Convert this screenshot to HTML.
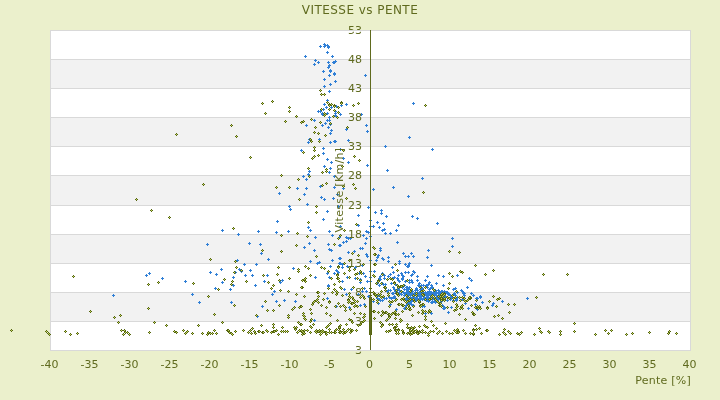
<!DOCTYPE html>
<html><head><meta charset="utf-8"><title>VITESSE vs PENTE</title>
<style>
html,body{margin:0;padding:0;background:#ebf0cc;}
svg{display:block;}
.t{font-family:"DejaVu Sans", "Liberation Sans", sans-serif;font-size:11px;fill:#5f6a1e;}
.ti{font-family:"DejaVu Sans", "Liberation Sans", sans-serif;font-size:12px;fill:#5f6a1e;}
</style></head><body>
<svg width="720" height="400" viewBox="0 0 720 400">
<defs>
<g id="od" shape-rendering="crispEdges"><rect x="-1" y="0" width="3" height="1" fill="#56650f"/><rect x="0" y="-1" width="1" height="3" fill="#56650f"/><rect x="0" y="0" width="1" height="1" fill="#bcd060"/></g>
<g id="bd" shape-rendering="crispEdges"><rect x="-1" y="0" width="3" height="1" fill="#2f7fd6"/><rect x="0" y="-1" width="1" height="3" fill="#2f7fd6"/></g>
</defs>
<rect x="0" y="0" width="720" height="400" fill="#ebf0cc"/>
<rect x="50" y="30" width="640" height="320" fill="#ffffff"/>
<rect x="50" y="59" width="640" height="29" fill="#f2f2f2"/>
<rect x="50" y="117" width="640" height="29" fill="#f2f2f2"/>
<rect x="50" y="175" width="640" height="30" fill="#f2f2f2"/>
<rect x="50" y="234" width="640" height="29" fill="#f2f2f2"/>
<rect x="50" y="292" width="640" height="29" fill="#f2f2f2"/>
<line x1="50" y1="59.5" x2="690" y2="59.5" stroke="#d9d9d9" stroke-width="1"/>
<line x1="50" y1="88.5" x2="690" y2="88.5" stroke="#d9d9d9" stroke-width="1"/>
<line x1="50" y1="117.5" x2="690" y2="117.5" stroke="#d9d9d9" stroke-width="1"/>
<line x1="50" y1="146.5" x2="690" y2="146.5" stroke="#d9d9d9" stroke-width="1"/>
<line x1="50" y1="175.5" x2="690" y2="175.5" stroke="#d9d9d9" stroke-width="1"/>
<line x1="50" y1="205.5" x2="690" y2="205.5" stroke="#d9d9d9" stroke-width="1"/>
<line x1="50" y1="234.5" x2="690" y2="234.5" stroke="#d9d9d9" stroke-width="1"/>
<line x1="50" y1="263.5" x2="690" y2="263.5" stroke="#d9d9d9" stroke-width="1"/>
<line x1="50" y1="292.5" x2="690" y2="292.5" stroke="#d9d9d9" stroke-width="1"/>
<line x1="50" y1="321.5" x2="690" y2="321.5" stroke="#d9d9d9" stroke-width="1"/>
<rect x="50.5" y="30.5" width="640" height="320" fill="none" stroke="#d9d9d9" stroke-width="1"/>
<text x="49.5" y="367.7" text-anchor="middle" class="t">-40</text>
<text x="89.5" y="367.7" text-anchor="middle" class="t">-35</text>
<text x="129.5" y="367.7" text-anchor="middle" class="t">-30</text>
<text x="169.5" y="367.7" text-anchor="middle" class="t">-25</text>
<text x="209.5" y="367.7" text-anchor="middle" class="t">-20</text>
<text x="249.5" y="367.7" text-anchor="middle" class="t">-15</text>
<text x="289.5" y="367.7" text-anchor="middle" class="t">-10</text>
<text x="329.5" y="367.7" text-anchor="middle" class="t">-5</text>
<text x="369.5" y="367.7" text-anchor="middle" class="t">0</text>
<text x="409.5" y="367.7" text-anchor="middle" class="t">5</text>
<text x="449.5" y="367.7" text-anchor="middle" class="t">10</text>
<text x="489.5" y="367.7" text-anchor="middle" class="t">15</text>
<text x="529.5" y="367.7" text-anchor="middle" class="t">20</text>
<text x="569.5" y="367.7" text-anchor="middle" class="t">25</text>
<text x="609.5" y="367.7" text-anchor="middle" class="t">30</text>
<text x="649.5" y="367.7" text-anchor="middle" class="t">35</text>
<text x="689.5" y="367.7" text-anchor="middle" class="t">40</text>
<text x="691" y="383.5" text-anchor="end" class="t" style="letter-spacing:0.25px">Pente [%]</text>
<text x="360" y="14" text-anchor="middle" class="ti" style="letter-spacing:0.45px">VITESSE vs PENTE</text>
<g>
<use href="#bd" x="222.0" y="230.0"/>
<use href="#bd" x="238.0" y="234.0"/>
<use href="#bd" x="413.0" y="103.0"/>
<use href="#bd" x="409.0" y="137.0"/>
<use href="#bd" x="385.0" y="146.0"/>
<use href="#bd" x="432.0" y="149.0"/>
<use href="#bd" x="387.0" y="170.0"/>
<use href="#bd" x="422.0" y="178.0"/>
<use href="#bd" x="373.0" y="189.0"/>
<use href="#bd" x="393.0" y="187.0"/>
<use href="#bd" x="408.0" y="196.0"/>
<use href="#bd" x="375.0" y="212.0"/>
<use href="#bd" x="381.0" y="210.0"/>
<use href="#bd" x="381.0" y="213.0"/>
<use href="#bd" x="386.0" y="216.0"/>
<use href="#bd" x="412.0" y="216.0"/>
<use href="#bd" x="417.0" y="218.0"/>
<use href="#bd" x="437.0" y="223.0"/>
<use href="#bd" x="377.0" y="222.0"/>
<use href="#bd" x="383.0" y="223.0"/>
<use href="#bd" x="373.0" y="226.0"/>
<use href="#bd" x="379.0" y="227.0"/>
<use href="#bd" x="398.0" y="225.0"/>
<use href="#bd" x="370.0" y="220.0"/>
<use href="#bd" x="471.0" y="280.0"/>
<use href="#bd" x="471.0" y="293.0"/>
<use href="#bd" x="473.0" y="295.0"/>
<use href="#bd" x="480.0" y="296.0"/>
<use href="#bd" x="476.0" y="298.0"/>
<use href="#bd" x="482.0" y="302.0"/>
<use href="#bd" x="475.0" y="304.0"/>
<use href="#bd" x="477.0" y="309.0"/>
<use href="#bd" x="502.0" y="301.0"/>
<use href="#bd" x="493.0" y="303.0"/>
<use href="#bd" x="492.0" y="305.0"/>
<use href="#bd" x="527.0" y="298.0"/>
<use href="#bd" x="113.0" y="295.0"/>
<use href="#bd" x="146.0" y="275.0"/>
<use href="#bd" x="149.0" y="273.0"/>
<use href="#bd" x="162.0" y="278.0"/>
<use href="#bd" x="207.0" y="244.0"/>
<use href="#bd" x="249.0" y="243.0"/>
<use href="#bd" x="260.0" y="244.0"/>
<use href="#bd" x="237.0" y="260.0"/>
<use href="#bd" x="244.0" y="264.0"/>
<use href="#bd" x="256.0" y="264.0"/>
<use href="#bd" x="221.0" y="269.0"/>
<use href="#bd" x="210.0" y="272.0"/>
<use href="#bd" x="216.0" y="274.0"/>
<use href="#bd" x="239.0" y="269.0"/>
<use href="#bd" x="241.0" y="271.0"/>
<use href="#bd" x="250.0" y="270.0"/>
<use href="#bd" x="235.0" y="272.0"/>
<use href="#bd" x="245.0" y="275.0"/>
<use href="#bd" x="252.0" y="275.0"/>
<use href="#bd" x="233.0" y="277.0"/>
<use href="#bd" x="185.0" y="281.0"/>
<use href="#bd" x="222.0" y="282.0"/>
<use href="#bd" x="233.0" y="285.0"/>
<use href="#bd" x="215.0" y="288.0"/>
<use href="#bd" x="230.0" y="289.0"/>
<use href="#bd" x="255.0" y="285.0"/>
<use href="#bd" x="192.0" y="294.0"/>
<use href="#bd" x="199.0" y="302.0"/>
<use href="#bd" x="272.0" y="294.0"/>
<use href="#bd" x="274.0" y="291.0"/>
<use href="#bd" x="231.0" y="302.0"/>
<use href="#bd" x="262.0" y="306.0"/>
<use href="#bd" x="276.0" y="301.0"/>
<use href="#bd" x="284.0" y="300.0"/>
<use href="#bd" x="295.0" y="301.0"/>
<use href="#bd" x="257.0" y="316.0"/>
<use href="#bd" x="328.0" y="286.0"/>
<use href="#bd" x="327.0" y="298.0"/>
<use href="#bd" x="336.0" y="306.0"/>
<use href="#bd" x="344.0" y="289.0"/>
<use href="#bd" x="351.0" y="289.0"/>
<use href="#bd" x="346.0" y="294.0"/>
<use href="#bd" x="364.0" y="288.0"/>
<use href="#bd" x="362.0" y="291.0"/>
<use href="#bd" x="362.0" y="291.0"/>
<use href="#bd" x="366.0" y="291.0"/>
<use href="#bd" x="358.0" y="294.0"/>
<use href="#bd" x="368.0" y="296.0"/>
<use href="#bd" x="373.0" y="301.0"/>
<use href="#bd" x="349.0" y="307.0"/>
<use href="#bd" x="360.0" y="305.0"/>
<use href="#bd" x="364.0" y="304.0"/>
<use href="#bd" x="314.0" y="320.0"/>
<use href="#bd" x="261.0" y="253.0"/>
<use href="#bd" x="268.0" y="259.0"/>
<use href="#bd" x="304.0" y="247.0"/>
<use href="#bd" x="293.0" y="268.0"/>
<use href="#bd" x="267.0" y="275.0"/>
<use href="#bd" x="264.0" y="281.0"/>
<use href="#bd" x="280.0" y="282.0"/>
<use href="#bd" x="282.0" y="280.0"/>
<use href="#bd" x="309.0" y="243.0"/>
<use href="#bd" x="314.0" y="250.0"/>
<use href="#bd" x="328.0" y="244.0"/>
<use href="#bd" x="329.0" y="249.0"/>
<use href="#bd" x="331.0" y="250.0"/>
<use href="#bd" x="339.0" y="245.0"/>
<use href="#bd" x="310.0" y="261.0"/>
<use href="#bd" x="317.0" y="263.0"/>
<use href="#bd" x="319.0" y="262.0"/>
<use href="#bd" x="332.0" y="260.0"/>
<use href="#bd" x="339.0" y="258.0"/>
<use href="#bd" x="339.0" y="263.0"/>
<use href="#bd" x="330.0" y="266.0"/>
<use href="#bd" x="336.0" y="270.0"/>
<use href="#bd" x="337.0" y="271.0"/>
<use href="#bd" x="327.0" y="273.0"/>
<use href="#bd" x="334.0" y="273.0"/>
<use href="#bd" x="315.0" y="277.0"/>
<use href="#bd" x="329.0" y="277.0"/>
<use href="#bd" x="328.0" y="285.0"/>
<use href="#bd" x="339.0" y="237.0"/>
<use href="#bd" x="346.0" y="237.0"/>
<use href="#bd" x="348.0" y="238.0"/>
<use href="#bd" x="350.0" y="238.0"/>
<use href="#bd" x="366.0" y="238.0"/>
<use href="#bd" x="343.0" y="242.0"/>
<use href="#bd" x="346.0" y="241.0"/>
<use href="#bd" x="340.0" y="245.0"/>
<use href="#bd" x="365.0" y="243.0"/>
<use href="#bd" x="360.0" y="248.0"/>
<use href="#bd" x="362.0" y="248.0"/>
<use href="#bd" x="348.0" y="252.0"/>
<use href="#bd" x="354.0" y="251.0"/>
<use href="#bd" x="366.0" y="254.0"/>
<use href="#bd" x="367.0" y="256.0"/>
<use href="#bd" x="340.0" y="258.0"/>
<use href="#bd" x="370.0" y="260.0"/>
<use href="#bd" x="340.0" y="263.0"/>
<use href="#bd" x="342.0" y="264.0"/>
<use href="#bd" x="344.0" y="263.0"/>
<use href="#bd" x="347.0" y="266.0"/>
<use href="#bd" x="342.0" y="267.0"/>
<use href="#bd" x="355.0" y="267.0"/>
<use href="#bd" x="362.0" y="265.0"/>
<use href="#bd" x="336.0" y="270.0"/>
<use href="#bd" x="338.0" y="272.0"/>
<use href="#bd" x="359.0" y="273.0"/>
<use href="#bd" x="363.0" y="273.0"/>
<use href="#bd" x="365.0" y="276.0"/>
<use href="#bd" x="370.0" y="271.0"/>
<use href="#bd" x="374.0" y="271.0"/>
<use href="#bd" x="373.0" y="275.0"/>
<use href="#bd" x="370.0" y="277.0"/>
<use href="#bd" x="347.0" y="277.0"/>
<use href="#bd" x="355.0" y="278.0"/>
<use href="#bd" x="360.0" y="279.0"/>
<use href="#bd" x="360.0" y="282.0"/>
<use href="#bd" x="342.0" y="281.0"/>
<use href="#bd" x="367.0" y="281.0"/>
<use href="#bd" x="370.0" y="281.0"/>
<use href="#bd" x="258.0" y="231.0"/>
<use href="#bd" x="279.0" y="193.0"/>
<use href="#bd" x="289.0" y="206.0"/>
<use href="#bd" x="290.0" y="209.0"/>
<use href="#bd" x="277.0" y="221.0"/>
<use href="#bd" x="276.0" y="232.0"/>
<use href="#bd" x="288.0" y="231.0"/>
<use href="#bd" x="304.0" y="194.0"/>
<use href="#bd" x="321.0" y="197.0"/>
<use href="#bd" x="324.0" y="199.0"/>
<use href="#bd" x="333.0" y="198.0"/>
<use href="#bd" x="337.0" y="194.0"/>
<use href="#bd" x="307.0" y="204.0"/>
<use href="#bd" x="327.0" y="211.0"/>
<use href="#bd" x="338.0" y="206.0"/>
<use href="#bd" x="323.0" y="219.0"/>
<use href="#bd" x="308.0" y="227.0"/>
<use href="#bd" x="310.0" y="230.0"/>
<use href="#bd" x="329.0" y="231.0"/>
<use href="#bd" x="340.0" y="226.0"/>
<use href="#bd" x="332.0" y="235.0"/>
<use href="#bd" x="315.0" y="237.0"/>
<use href="#bd" x="368.0" y="207.0"/>
<use href="#bd" x="358.0" y="215.0"/>
<use href="#bd" x="358.0" y="225.0"/>
<use href="#bd" x="370.0" y="226.0"/>
<use href="#bd" x="366.0" y="231.0"/>
<use href="#bd" x="368.0" y="232.0"/>
<use href="#bd" x="363.0" y="235.0"/>
<use href="#bd" x="370.0" y="236.0"/>
<use href="#bd" x="308.0" y="142.0"/>
<use href="#bd" x="330.0" y="142.0"/>
<use href="#bd" x="334.0" y="141.0"/>
<use href="#bd" x="301.0" y="150.0"/>
<use href="#bd" x="323.0" y="148.0"/>
<use href="#bd" x="323.0" y="153.0"/>
<use href="#bd" x="327.0" y="159.0"/>
<use href="#bd" x="331.0" y="162.0"/>
<use href="#bd" x="324.0" y="166.0"/>
<use href="#bd" x="330.0" y="168.0"/>
<use href="#bd" x="329.0" y="172.0"/>
<use href="#bd" x="309.0" y="171.0"/>
<use href="#bd" x="308.0" y="174.0"/>
<use href="#bd" x="303.0" y="176.0"/>
<use href="#bd" x="306.0" y="179.0"/>
<use href="#bd" x="334.0" y="176.0"/>
<use href="#bd" x="297.0" y="188.0"/>
<use href="#bd" x="306.0" y="188.0"/>
<use href="#bd" x="320.0" y="186.0"/>
<use href="#bd" x="334.0" y="187.0"/>
<use href="#bd" x="348.0" y="140.0"/>
<use href="#bd" x="340.0" y="149.0"/>
<use href="#bd" x="343.0" y="158.0"/>
<use href="#bd" x="348.0" y="162.0"/>
<use href="#bd" x="367.0" y="165.0"/>
<use href="#bd" x="343.0" y="188.0"/>
<use href="#bd" x="329.0" y="91.0"/>
<use href="#bd" x="327.0" y="100.0"/>
<use href="#bd" x="324.0" y="104.0"/>
<use href="#bd" x="326.0" y="107.0"/>
<use href="#bd" x="331.0" y="107.0"/>
<use href="#bd" x="336.0" y="106.0"/>
<use href="#bd" x="341.0" y="105.0"/>
<use href="#bd" x="323.0" y="109.0"/>
<use href="#bd" x="318.0" y="111.0"/>
<use href="#bd" x="320.0" y="111.0"/>
<use href="#bd" x="335.0" y="111.0"/>
<use href="#bd" x="322.0" y="113.0"/>
<use href="#bd" x="322.0" y="114.0"/>
<use href="#bd" x="327.0" y="113.0"/>
<use href="#bd" x="335.0" y="113.0"/>
<use href="#bd" x="335.0" y="115.0"/>
<use href="#bd" x="340.0" y="114.0"/>
<use href="#bd" x="329.0" y="117.0"/>
<use href="#bd" x="336.0" y="116.0"/>
<use href="#bd" x="314.0" y="120.0"/>
<use href="#bd" x="327.0" y="120.0"/>
<use href="#bd" x="329.0" y="120.0"/>
<use href="#bd" x="325.0" y="123.0"/>
<use href="#bd" x="330.0" y="124.0"/>
<use href="#bd" x="322.0" y="125.0"/>
<use href="#bd" x="306.0" y="125.0"/>
<use href="#bd" x="328.0" y="127.0"/>
<use href="#bd" x="331.0" y="130.0"/>
<use href="#bd" x="330.0" y="133.0"/>
<use href="#bd" x="309.0" y="139.0"/>
<use href="#bd" x="319.0" y="139.0"/>
<use href="#bd" x="335.0" y="141.0"/>
<use href="#bd" x="320.0" y="46.0"/>
<use href="#bd" x="324.0" y="44.0"/>
<use href="#bd" x="324.0" y="46.0"/>
<use href="#bd" x="325.0" y="45.0"/>
<use href="#bd" x="327.0" y="45.0"/>
<use href="#bd" x="328.0" y="46.0"/>
<use href="#bd" x="328.0" y="47.0"/>
<use href="#bd" x="327.0" y="52.0"/>
<use href="#bd" x="305.0" y="56.0"/>
<use href="#bd" x="332.0" y="56.0"/>
<use href="#bd" x="315.0" y="60.0"/>
<use href="#bd" x="318.0" y="62.0"/>
<use href="#bd" x="314.0" y="64.0"/>
<use href="#bd" x="328.0" y="62.0"/>
<use href="#bd" x="329.0" y="65.0"/>
<use href="#bd" x="333.0" y="62.0"/>
<use href="#bd" x="334.0" y="62.0"/>
<use href="#bd" x="335.0" y="61.0"/>
<use href="#bd" x="328.0" y="67.0"/>
<use href="#bd" x="323.0" y="71.0"/>
<use href="#bd" x="330.0" y="70.0"/>
<use href="#bd" x="330.0" y="71.0"/>
<use href="#bd" x="334.0" y="73.0"/>
<use href="#bd" x="334.0" y="74.0"/>
<use href="#bd" x="329.0" y="75.0"/>
<use href="#bd" x="324.0" y="79.0"/>
<use href="#bd" x="335.0" y="81.0"/>
<use href="#bd" x="330.0" y="84.0"/>
<use href="#bd" x="324.0" y="86.0"/>
<use href="#bd" x="365.0" y="75.0"/>
<use href="#bd" x="346.0" y="104.0"/>
<use href="#bd" x="361.0" y="114.0"/>
<use href="#bd" x="366.0" y="125.0"/>
<use href="#bd" x="367.0" y="131.0"/>
<use href="#bd" x="346.0" y="129.0"/>
<use href="#bd" x="382.0" y="230.0"/>
<use href="#bd" x="384.0" y="229.0"/>
<use href="#bd" x="396.0" y="230.0"/>
<use href="#bd" x="385.0" y="233.0"/>
<use href="#bd" x="390.0" y="233.0"/>
<use href="#bd" x="397.0" y="242.0"/>
<use href="#bd" x="380.0" y="248.0"/>
<use href="#bd" x="380.0" y="250.0"/>
<use href="#bd" x="378.0" y="255.0"/>
<use href="#bd" x="377.0" y="257.0"/>
<use href="#bd" x="376.0" y="260.0"/>
<use href="#bd" x="382.0" y="258.0"/>
<use href="#bd" x="383.0" y="259.0"/>
<use href="#bd" x="388.0" y="257.0"/>
<use href="#bd" x="388.0" y="261.0"/>
<use href="#bd" x="403.0" y="253.0"/>
<use href="#bd" x="405.0" y="256.0"/>
<use href="#bd" x="408.0" y="256.0"/>
<use href="#bd" x="411.0" y="253.0"/>
<use href="#bd" x="413.0" y="256.0"/>
<use href="#bd" x="399.0" y="261.0"/>
<use href="#bd" x="399.0" y="263.0"/>
<use href="#bd" x="405.0" y="264.0"/>
<use href="#bd" x="409.0" y="263.0"/>
<use href="#bd" x="408.0" y="265.0"/>
<use href="#bd" x="392.0" y="267.0"/>
<use href="#bd" x="452.0" y="238.0"/>
<use href="#bd" x="452.0" y="246.0"/>
<use href="#bd" x="428.0" y="250.0"/>
<use href="#bd" x="427.0" y="257.0"/>
<use href="#bd" x="431.0" y="265.0"/>
<use href="#bd" x="393.0" y="272.0"/>
<use href="#bd" x="390.0" y="274.0"/>
<use href="#bd" x="382.0" y="273.0"/>
<use href="#bd" x="383.0" y="274.0"/>
<use href="#bd" x="384.0" y="275.0"/>
<use href="#bd" x="388.0" y="276.0"/>
<use href="#bd" x="380.0" y="276.0"/>
<use href="#bd" x="379.0" y="278.0"/>
<use href="#bd" x="380.0" y="279.0"/>
<use href="#bd" x="384.0" y="278.0"/>
<use href="#bd" x="392.0" y="278.0"/>
<use href="#bd" x="394.0" y="277.0"/>
<use href="#bd" x="398.0" y="275.0"/>
<use href="#bd" x="397.0" y="278.0"/>
<use href="#bd" x="398.0" y="280.0"/>
<use href="#bd" x="399.0" y="281.0"/>
<use href="#bd" x="401.0" y="273.0"/>
<use href="#bd" x="402.0" y="275.0"/>
<use href="#bd" x="403.0" y="276.0"/>
<use href="#bd" x="402.0" y="278.0"/>
<use href="#bd" x="402.0" y="279.0"/>
<use href="#bd" x="405.0" y="272.0"/>
<use href="#bd" x="408.0" y="272.0"/>
<use href="#bd" x="407.0" y="266.0"/>
<use href="#bd" x="408.0" y="266.0"/>
<use href="#bd" x="377.0" y="283.0"/>
<use href="#bd" x="379.0" y="285.0"/>
<use href="#bd" x="382.0" y="283.0"/>
<use href="#bd" x="383.0" y="284.0"/>
<use href="#bd" x="385.0" y="284.0"/>
<use href="#bd" x="384.0" y="287.0"/>
<use href="#bd" x="385.0" y="288.0"/>
<use href="#bd" x="391.0" y="283.0"/>
<use href="#bd" x="395.0" y="284.0"/>
<use href="#bd" x="405.0" y="281.0"/>
<use href="#bd" x="409.0" y="282.0"/>
<use href="#bd" x="409.0" y="280.0"/>
<use href="#bd" x="393.0" y="287.0"/>
<use href="#bd" x="394.0" y="289.0"/>
<use href="#bd" x="395.0" y="291.0"/>
<use href="#bd" x="393.0" y="293.0"/>
<use href="#bd" x="397.0" y="290.0"/>
<use href="#bd" x="398.0" y="288.0"/>
<use href="#bd" x="399.0" y="290.0"/>
<use href="#bd" x="399.0" y="293.0"/>
<use href="#bd" x="402.0" y="287.0"/>
<use href="#bd" x="404.0" y="285.0"/>
<use href="#bd" x="404.0" y="289.0"/>
<use href="#bd" x="406.0" y="287.0"/>
<use href="#bd" x="407.0" y="287.0"/>
<use href="#bd" x="408.0" y="289.0"/>
<use href="#bd" x="407.0" y="291.0"/>
<use href="#bd" x="405.0" y="293.0"/>
<use href="#bd" x="403.0" y="292.0"/>
<use href="#bd" x="388.0" y="290.0"/>
<use href="#bd" x="390.0" y="290.0"/>
<use href="#bd" x="387.0" y="291.0"/>
<use href="#bd" x="413.0" y="271.0"/>
<use href="#bd" x="414.0" y="272.0"/>
<use href="#bd" x="412.0" y="274.0"/>
<use href="#bd" x="411.0" y="275.0"/>
<use href="#bd" x="417.0" y="276.0"/>
<use href="#bd" x="427.0" y="276.0"/>
<use href="#bd" x="438.0" y="275.0"/>
<use href="#bd" x="443.0" y="276.0"/>
<use href="#bd" x="417.0" y="280.0"/>
<use href="#bd" x="425.0" y="280.0"/>
<use href="#bd" x="411.0" y="280.0"/>
<use href="#bd" x="412.0" y="282.0"/>
<use href="#bd" x="409.0" y="282.0"/>
<use href="#bd" x="436.0" y="283.0"/>
<use href="#bd" x="443.0" y="285.0"/>
<use href="#bd" x="429.0" y="282.0"/>
<use href="#bd" x="428.0" y="284.0"/>
<use href="#bd" x="419.0" y="283.0"/>
<use href="#bd" x="418.0" y="285.0"/>
<use href="#bd" x="421.0" y="285.0"/>
<use href="#bd" x="419.0" y="286.0"/>
<use href="#bd" x="423.0" y="285.0"/>
<use href="#bd" x="426.0" y="285.0"/>
<use href="#bd" x="427.0" y="287.0"/>
<use href="#bd" x="431.0" y="285.0"/>
<use href="#bd" x="432.0" y="287.0"/>
<use href="#bd" x="407.0" y="287.0"/>
<use href="#bd" x="409.0" y="287.0"/>
<use href="#bd" x="406.0" y="289.0"/>
<use href="#bd" x="408.0" y="288.0"/>
<use href="#bd" x="416.0" y="288.0"/>
<use href="#bd" x="415.0" y="290.0"/>
<use href="#bd" x="417.0" y="290.0"/>
<use href="#bd" x="420.0" y="289.0"/>
<use href="#bd" x="423.0" y="290.0"/>
<use href="#bd" x="422.0" y="288.0"/>
<use href="#bd" x="429.0" y="289.0"/>
<use href="#bd" x="430.0" y="288.0"/>
<use href="#bd" x="429.0" y="291.0"/>
<use href="#bd" x="412.0" y="291.0"/>
<use href="#bd" x="411.0" y="293.0"/>
<use href="#bd" x="414.0" y="293.0"/>
<use href="#bd" x="418.0" y="293.0"/>
<use href="#bd" x="420.0" y="294.0"/>
<use href="#bd" x="417.0" y="294.0"/>
<use href="#bd" x="424.0" y="293.0"/>
<use href="#bd" x="426.0" y="293.0"/>
<use href="#bd" x="427.0" y="292.0"/>
<use href="#bd" x="427.0" y="294.0"/>
<use href="#bd" x="435.0" y="290.0"/>
<use href="#bd" x="436.0" y="292.0"/>
<use href="#bd" x="438.0" y="290.0"/>
<use href="#bd" x="439.0" y="293.0"/>
<use href="#bd" x="441.0" y="291.0"/>
<use href="#bd" x="442.0" y="292.0"/>
<use href="#bd" x="406.0" y="293.0"/>
<use href="#bd" x="407.0" y="293.0"/>
<use href="#bd" x="457.0" y="275.0"/>
<use href="#bd" x="469.0" y="278.0"/>
<use href="#bd" x="467.0" y="287.0"/>
<use href="#bd" x="453.0" y="289.0"/>
<use href="#bd" x="455.0" y="288.0"/>
<use href="#bd" x="461.0" y="290.0"/>
<use href="#bd" x="457.0" y="292.0"/>
<use href="#bd" x="464.0" y="293.0"/>
<use href="#bd" x="441.0" y="291.0"/>
<use href="#bd" x="446.0" y="292.0"/>
<use href="#bd" x="447.0" y="293.0"/>
<use href="#bd" x="454.0" y="293.0"/>
<use href="#bd" x="378.0" y="295.0"/>
<use href="#bd" x="377.0" y="298.0"/>
<use href="#bd" x="379.0" y="299.0"/>
<use href="#bd" x="383.0" y="296.0"/>
<use href="#bd" x="384.0" y="298.0"/>
<use href="#bd" x="380.0" y="300.0"/>
<use href="#bd" x="382.0" y="300.0"/>
<use href="#bd" x="386.0" y="298.0"/>
<use href="#bd" x="389.0" y="297.0"/>
<use href="#bd" x="391.0" y="298.0"/>
<use href="#bd" x="373.0" y="301.0"/>
<use href="#bd" x="378.0" y="303.0"/>
<use href="#bd" x="392.0" y="293.0"/>
<use href="#bd" x="394.0" y="296.0"/>
<use href="#bd" x="395.0" y="298.0"/>
<use href="#bd" x="393.0" y="297.0"/>
<use href="#bd" x="398.0" y="293.0"/>
<use href="#bd" x="401.0" y="294.0"/>
<use href="#bd" x="404.0" y="295.0"/>
<use href="#bd" x="404.0" y="293.0"/>
<use href="#bd" x="406.0" y="294.0"/>
<use href="#bd" x="407.0" y="295.0"/>
<use href="#bd" x="403.0" y="299.0"/>
<use href="#bd" x="405.0" y="299.0"/>
<use href="#bd" x="408.0" y="302.0"/>
<use href="#bd" x="390.0" y="304.0"/>
<use href="#bd" x="406.0" y="305.0"/>
<use href="#bd" x="404.0" y="308.0"/>
<use href="#bd" x="405.0" y="308.0"/>
<use href="#bd" x="396.0" y="309.0"/>
<use href="#bd" x="406.0" y="293.0"/>
<use href="#bd" x="410.0" y="293.0"/>
<use href="#bd" x="412.0" y="293.0"/>
<use href="#bd" x="414.0" y="293.0"/>
<use href="#bd" x="416.0" y="293.0"/>
<use href="#bd" x="418.0" y="293.0"/>
<use href="#bd" x="420.0" y="293.0"/>
<use href="#bd" x="422.0" y="293.0"/>
<use href="#bd" x="424.0" y="293.0"/>
<use href="#bd" x="428.0" y="293.0"/>
<use href="#bd" x="430.0" y="293.0"/>
<use href="#bd" x="432.0" y="293.0"/>
<use href="#bd" x="434.0" y="293.0"/>
<use href="#bd" x="436.0" y="293.0"/>
<use href="#bd" x="438.0" y="293.0"/>
<use href="#bd" x="444.0" y="293.0"/>
<use href="#bd" x="406.0" y="295.0"/>
<use href="#bd" x="408.0" y="295.0"/>
<use href="#bd" x="412.0" y="295.0"/>
<use href="#bd" x="414.0" y="295.0"/>
<use href="#bd" x="416.0" y="295.0"/>
<use href="#bd" x="418.0" y="295.0"/>
<use href="#bd" x="420.0" y="295.0"/>
<use href="#bd" x="422.0" y="295.0"/>
<use href="#bd" x="424.0" y="295.0"/>
<use href="#bd" x="426.0" y="295.0"/>
<use href="#bd" x="428.0" y="295.0"/>
<use href="#bd" x="430.0" y="295.0"/>
<use href="#bd" x="432.0" y="295.0"/>
<use href="#bd" x="434.0" y="295.0"/>
<use href="#bd" x="436.0" y="295.0"/>
<use href="#bd" x="440.0" y="295.0"/>
<use href="#bd" x="442.0" y="295.0"/>
<use href="#bd" x="444.0" y="295.0"/>
<use href="#bd" x="410.0" y="297.0"/>
<use href="#bd" x="412.0" y="297.0"/>
<use href="#bd" x="414.0" y="297.0"/>
<use href="#bd" x="416.0" y="297.0"/>
<use href="#bd" x="420.0" y="297.0"/>
<use href="#bd" x="424.0" y="297.0"/>
<use href="#bd" x="426.0" y="297.0"/>
<use href="#bd" x="428.0" y="297.0"/>
<use href="#bd" x="434.0" y="297.0"/>
<use href="#bd" x="436.0" y="297.0"/>
<use href="#bd" x="438.0" y="297.0"/>
<use href="#bd" x="440.0" y="297.0"/>
<use href="#bd" x="442.0" y="297.0"/>
<use href="#bd" x="444.0" y="297.0"/>
<use href="#bd" x="406.0" y="299.0"/>
<use href="#bd" x="408.0" y="299.0"/>
<use href="#bd" x="410.0" y="299.0"/>
<use href="#bd" x="412.0" y="299.0"/>
<use href="#bd" x="414.0" y="299.0"/>
<use href="#bd" x="416.0" y="299.0"/>
<use href="#bd" x="418.0" y="299.0"/>
<use href="#bd" x="420.0" y="299.0"/>
<use href="#bd" x="422.0" y="299.0"/>
<use href="#bd" x="424.0" y="299.0"/>
<use href="#bd" x="426.0" y="299.0"/>
<use href="#bd" x="428.0" y="299.0"/>
<use href="#bd" x="430.0" y="299.0"/>
<use href="#bd" x="432.0" y="299.0"/>
<use href="#bd" x="436.0" y="299.0"/>
<use href="#bd" x="438.0" y="299.0"/>
<use href="#bd" x="440.0" y="299.0"/>
<use href="#bd" x="442.0" y="299.0"/>
<use href="#bd" x="406.0" y="305.0"/>
<use href="#bd" x="408.0" y="304.0"/>
<use href="#bd" x="410.0" y="303.0"/>
<use href="#bd" x="411.0" y="304.0"/>
<use href="#bd" x="413.0" y="305.0"/>
<use href="#bd" x="405.0" y="307.0"/>
<use href="#bd" x="406.0" y="308.0"/>
<use href="#bd" x="423.0" y="305.0"/>
<use href="#bd" x="424.0" y="306.0"/>
<use href="#bd" x="422.0" y="306.0"/>
<use href="#bd" x="431.0" y="302.0"/>
<use href="#bd" x="432.0" y="302.0"/>
<use href="#bd" x="434.0" y="301.0"/>
<use href="#bd" x="435.0" y="302.0"/>
<use href="#bd" x="442.0" y="305.0"/>
<use href="#bd" x="443.0" y="306.0"/>
<use href="#bd" x="444.0" y="307.0"/>
<use href="#bd" x="443.0" y="308.0"/>
<use href="#bd" x="425.0" y="313.0"/>
<use href="#bd" x="431.0" y="313.0"/>
<use href="#bd" x="416.0" y="300.0"/>
<use href="#bd" x="420.0" y="299.0"/>
<use href="#bd" x="426.0" y="300.0"/>
<use href="#bd" x="428.0" y="301.0"/>
<use href="#bd" x="411.0" y="301.0"/>
<use href="#bd" x="407.0" y="302.0"/>
<use href="#bd" x="409.0" y="292.0"/>
<use href="#bd" x="411.0" y="292.0"/>
<use href="#bd" x="415.0" y="292.0"/>
<use href="#bd" x="417.0" y="292.0"/>
<use href="#bd" x="419.0" y="292.0"/>
<use href="#bd" x="421.0" y="292.0"/>
<use href="#bd" x="423.0" y="292.0"/>
<use href="#bd" x="425.0" y="292.0"/>
<use href="#bd" x="427.0" y="292.0"/>
<use href="#bd" x="429.0" y="292.0"/>
<use href="#bd" x="431.0" y="292.0"/>
<use href="#bd" x="433.0" y="292.0"/>
<use href="#bd" x="439.0" y="292.0"/>
<use href="#bd" x="441.0" y="292.0"/>
<use href="#bd" x="443.0" y="292.0"/>
<use href="#bd" x="445.0" y="292.0"/>
<use href="#bd" x="406.0" y="294.0"/>
<use href="#bd" x="408.0" y="294.0"/>
<use href="#bd" x="410.0" y="294.0"/>
<use href="#bd" x="412.0" y="294.0"/>
<use href="#bd" x="416.0" y="294.0"/>
<use href="#bd" x="418.0" y="294.0"/>
<use href="#bd" x="420.0" y="294.0"/>
<use href="#bd" x="422.0" y="294.0"/>
<use href="#bd" x="424.0" y="294.0"/>
<use href="#bd" x="426.0" y="294.0"/>
<use href="#bd" x="428.0" y="294.0"/>
<use href="#bd" x="432.0" y="294.0"/>
<use href="#bd" x="434.0" y="294.0"/>
<use href="#bd" x="440.0" y="294.0"/>
<use href="#bd" x="407.0" y="296.0"/>
<use href="#bd" x="413.0" y="296.0"/>
<use href="#bd" x="417.0" y="296.0"/>
<use href="#bd" x="419.0" y="296.0"/>
<use href="#bd" x="421.0" y="296.0"/>
<use href="#bd" x="423.0" y="296.0"/>
<use href="#bd" x="427.0" y="296.0"/>
<use href="#bd" x="431.0" y="296.0"/>
<use href="#bd" x="437.0" y="296.0"/>
<use href="#bd" x="439.0" y="296.0"/>
<use href="#bd" x="443.0" y="296.0"/>
<use href="#bd" x="445.0" y="296.0"/>
<use href="#bd" x="406.0" y="298.0"/>
<use href="#bd" x="408.0" y="298.0"/>
<use href="#bd" x="410.0" y="298.0"/>
<use href="#bd" x="412.0" y="298.0"/>
<use href="#bd" x="416.0" y="298.0"/>
<use href="#bd" x="420.0" y="298.0"/>
<use href="#bd" x="424.0" y="298.0"/>
<use href="#bd" x="426.0" y="298.0"/>
<use href="#bd" x="428.0" y="298.0"/>
<use href="#bd" x="430.0" y="298.0"/>
<use href="#bd" x="432.0" y="298.0"/>
<use href="#bd" x="434.0" y="298.0"/>
<use href="#bd" x="436.0" y="298.0"/>
<use href="#bd" x="438.0" y="298.0"/>
<use href="#bd" x="442.0" y="298.0"/>
<use href="#bd" x="444.0" y="298.0"/>
<use href="#bd" x="442.0" y="291.0"/>
<use href="#bd" x="444.0" y="291.0"/>
<use href="#bd" x="447.0" y="292.0"/>
<use href="#bd" x="448.0" y="294.0"/>
<use href="#bd" x="450.0" y="295.0"/>
<use href="#bd" x="451.0" y="297.0"/>
<use href="#bd" x="450.0" y="299.0"/>
<use href="#bd" x="447.0" y="293.0"/>
<use href="#bd" x="449.0" y="294.0"/>
<use href="#bd" x="454.0" y="294.0"/>
<use href="#bd" x="455.0" y="295.0"/>
<use href="#bd" x="457.0" y="292.0"/>
<use href="#bd" x="457.0" y="297.0"/>
<use href="#bd" x="456.0" y="299.0"/>
<use href="#bd" x="456.0" y="300.0"/>
<use href="#bd" x="453.0" y="300.0"/>
<use href="#bd" x="447.0" y="300.0"/>
<use href="#bd" x="462.0" y="291.0"/>
<use href="#bd" x="463.0" y="293.0"/>
<use href="#bd" x="464.0" y="295.0"/>
<use href="#bd" x="462.0" y="299.0"/>
<use href="#bd" x="471.0" y="293.0"/>
<use href="#bd" x="473.0" y="295.0"/>
<use href="#bd" x="477.0" y="298.0"/>
<use href="#bd" x="480.0" y="297.0"/>
<use href="#bd" x="465.0" y="303.0"/>
<use href="#bd" x="475.0" y="304.0"/>
<use href="#bd" x="477.0" y="306.0"/>
<use href="#bd" x="441.0" y="301.0"/>
<use href="#bd" x="442.0" y="305.0"/>
<use href="#bd" x="443.0" y="306.0"/>
<use href="#bd" x="444.0" y="308.0"/>
<use href="#bd" x="451.0" y="307.0"/>
<use href="#bd" x="448.0" y="312.0"/>
<use href="#bd" x="468.0" y="308.0"/>
<use href="#bd" x="477.0" y="309.0"/>
<use href="#od" x="176.0" y="134.0"/>
<use href="#od" x="231.0" y="125.0"/>
<use href="#od" x="236.0" y="136.0"/>
<use href="#od" x="203.0" y="184.0"/>
<use href="#od" x="136.0" y="199.0"/>
<use href="#od" x="151.0" y="210.0"/>
<use href="#od" x="169.0" y="217.0"/>
<use href="#od" x="233.0" y="228.0"/>
<use href="#od" x="425.0" y="105.0"/>
<use href="#od" x="423.0" y="192.0"/>
<use href="#od" x="475.0" y="265.0"/>
<use href="#od" x="493.0" y="270.0"/>
<use href="#od" x="485.0" y="274.0"/>
<use href="#od" x="543.0" y="274.0"/>
<use href="#od" x="567.0" y="274.0"/>
<use href="#od" x="470.0" y="298.0"/>
<use href="#od" x="493.0" y="296.0"/>
<use href="#od" x="497.0" y="299.0"/>
<use href="#od" x="499.0" y="298.0"/>
<use href="#od" x="489.0" y="301.0"/>
<use href="#od" x="476.0" y="300.0"/>
<use href="#od" x="471.0" y="305.0"/>
<use href="#od" x="476.0" y="307.0"/>
<use href="#od" x="478.0" y="308.0"/>
<use href="#od" x="479.0" y="306.0"/>
<use href="#od" x="487.0" y="307.0"/>
<use href="#od" x="487.0" y="308.0"/>
<use href="#od" x="496.0" y="306.0"/>
<use href="#od" x="508.0" y="304.0"/>
<use href="#od" x="514.0" y="304.0"/>
<use href="#od" x="536.0" y="297.0"/>
<use href="#od" x="472.0" y="312.0"/>
<use href="#od" x="473.0" y="314.0"/>
<use href="#od" x="509.0" y="312.0"/>
<use href="#od" x="494.0" y="316.0"/>
<use href="#od" x="498.0" y="315.0"/>
<use href="#od" x="502.0" y="318.0"/>
<use href="#od" x="475.0" y="325.0"/>
<use href="#od" x="473.0" y="329.0"/>
<use href="#od" x="476.0" y="329.0"/>
<use href="#od" x="479.0" y="328.0"/>
<use href="#od" x="470.0" y="333.0"/>
<use href="#od" x="473.0" y="334.0"/>
<use href="#od" x="481.0" y="333.0"/>
<use href="#od" x="486.0" y="330.0"/>
<use href="#od" x="487.0" y="330.0"/>
<use href="#od" x="499.0" y="334.0"/>
<use href="#od" x="504.0" y="329.0"/>
<use href="#od" x="503.0" y="332.0"/>
<use href="#od" x="505.0" y="334.0"/>
<use href="#od" x="508.0" y="331.0"/>
<use href="#od" x="510.0" y="333.0"/>
<use href="#od" x="517.0" y="333.0"/>
<use href="#od" x="519.0" y="334.0"/>
<use href="#od" x="521.0" y="332.0"/>
<use href="#od" x="534.0" y="334.0"/>
<use href="#od" x="539.0" y="328.0"/>
<use href="#od" x="540.0" y="331.0"/>
<use href="#od" x="541.0" y="332.0"/>
<use href="#od" x="548.0" y="331.0"/>
<use href="#od" x="549.0" y="332.0"/>
<use href="#od" x="560.0" y="331.0"/>
<use href="#od" x="560.0" y="334.0"/>
<use href="#od" x="574.0" y="323.0"/>
<use href="#od" x="574.0" y="331.0"/>
<use href="#od" x="595.0" y="334.0"/>
<use href="#od" x="605.0" y="330.0"/>
<use href="#od" x="608.0" y="333.0"/>
<use href="#od" x="611.0" y="330.0"/>
<use href="#od" x="626.0" y="334.0"/>
<use href="#od" x="632.0" y="333.0"/>
<use href="#od" x="649.0" y="332.0"/>
<use href="#od" x="668.0" y="333.0"/>
<use href="#od" x="669.0" y="331.0"/>
<use href="#od" x="676.0" y="333.0"/>
<use href="#od" x="11.0" y="330.0"/>
<use href="#od" x="46.0" y="331.0"/>
<use href="#od" x="48.0" y="333.0"/>
<use href="#od" x="49.0" y="334.0"/>
<use href="#od" x="65.0" y="331.0"/>
<use href="#od" x="70.0" y="334.0"/>
<use href="#od" x="77.0" y="333.0"/>
<use href="#od" x="90.0" y="311.0"/>
<use href="#od" x="114.0" y="317.0"/>
<use href="#od" x="120.0" y="315.0"/>
<use href="#od" x="118.0" y="322.0"/>
<use href="#od" x="121.0" y="330.0"/>
<use href="#od" x="124.0" y="330.0"/>
<use href="#od" x="125.0" y="332.0"/>
<use href="#od" x="123.0" y="334.0"/>
<use href="#od" x="127.0" y="332.0"/>
<use href="#od" x="129.0" y="334.0"/>
<use href="#od" x="73.0" y="276.0"/>
<use href="#od" x="148.0" y="284.0"/>
<use href="#od" x="158.0" y="282.0"/>
<use href="#od" x="210.0" y="259.0"/>
<use href="#od" x="235.0" y="261.0"/>
<use href="#od" x="236.0" y="267.0"/>
<use href="#od" x="241.0" y="270.0"/>
<use href="#od" x="234.0" y="272.0"/>
<use href="#od" x="224.0" y="279.0"/>
<use href="#od" x="193.0" y="283.0"/>
<use href="#od" x="232.0" y="281.0"/>
<use href="#od" x="231.0" y="284.0"/>
<use href="#od" x="246.0" y="281.0"/>
<use href="#od" x="218.0" y="289.0"/>
<use href="#od" x="208.0" y="296.0"/>
<use href="#od" x="148.0" y="308.0"/>
<use href="#od" x="214.0" y="314.0"/>
<use href="#od" x="154.0" y="322.0"/>
<use href="#od" x="166.0" y="325.0"/>
<use href="#od" x="198.0" y="325.0"/>
<use href="#od" x="222.0" y="322.0"/>
<use href="#od" x="149.0" y="332.0"/>
<use href="#od" x="174.0" y="331.0"/>
<use href="#od" x="176.0" y="332.0"/>
<use href="#od" x="183.0" y="330.0"/>
<use href="#od" x="185.0" y="333.0"/>
<use href="#od" x="187.0" y="331.0"/>
<use href="#od" x="186.0" y="332.0"/>
<use href="#od" x="192.0" y="333.0"/>
<use href="#od" x="202.0" y="333.0"/>
<use href="#od" x="207.0" y="334.0"/>
<use href="#od" x="208.0" y="332.0"/>
<use href="#od" x="210.0" y="333.0"/>
<use href="#od" x="212.0" y="333.0"/>
<use href="#od" x="214.0" y="330.0"/>
<use href="#od" x="216.0" y="333.0"/>
<use href="#od" x="227.0" y="330.0"/>
<use href="#od" x="229.0" y="332.0"/>
<use href="#od" x="280.0" y="290.0"/>
<use href="#od" x="288.0" y="291.0"/>
<use href="#od" x="296.0" y="294.0"/>
<use href="#od" x="304.0" y="296.0"/>
<use href="#od" x="234.0" y="305.0"/>
<use href="#od" x="265.0" y="301.0"/>
<use href="#od" x="279.0" y="305.0"/>
<use href="#od" x="267.0" y="310.0"/>
<use href="#od" x="273.0" y="310.0"/>
<use href="#od" x="292.0" y="309.0"/>
<use href="#od" x="294.0" y="307.0"/>
<use href="#od" x="299.0" y="307.0"/>
<use href="#od" x="300.0" y="306.0"/>
<use href="#od" x="256.0" y="315.0"/>
<use href="#od" x="288.0" y="315.0"/>
<use href="#od" x="288.0" y="317.0"/>
<use href="#od" x="303.0" y="313.0"/>
<use href="#od" x="304.0" y="316.0"/>
<use href="#od" x="304.0" y="318.0"/>
<use href="#od" x="261.0" y="325.0"/>
<use href="#od" x="273.0" y="324.0"/>
<use href="#od" x="273.0" y="327.0"/>
<use href="#od" x="298.0" y="322.0"/>
<use href="#od" x="300.0" y="324.0"/>
<use href="#od" x="228.0" y="330.0"/>
<use href="#od" x="231.0" y="333.0"/>
<use href="#od" x="232.0" y="334.0"/>
<use href="#od" x="235.0" y="331.0"/>
<use href="#od" x="243.0" y="330.0"/>
<use href="#od" x="248.0" y="332.0"/>
<use href="#od" x="250.0" y="330.0"/>
<use href="#od" x="251.0" y="333.0"/>
<use href="#od" x="252.0" y="328.0"/>
<use href="#od" x="254.0" y="331.0"/>
<use href="#od" x="255.0" y="333.0"/>
<use href="#od" x="258.0" y="331.0"/>
<use href="#od" x="259.0" y="331.0"/>
<use href="#od" x="262.0" y="332.0"/>
<use href="#od" x="263.0" y="332.0"/>
<use href="#od" x="266.0" y="330.0"/>
<use href="#od" x="267.0" y="331.0"/>
<use href="#od" x="271.0" y="332.0"/>
<use href="#od" x="273.0" y="331.0"/>
<use href="#od" x="274.0" y="331.0"/>
<use href="#od" x="276.0" y="330.0"/>
<use href="#od" x="278.0" y="334.0"/>
<use href="#od" x="281.0" y="331.0"/>
<use href="#od" x="283.0" y="331.0"/>
<use href="#od" x="285.0" y="331.0"/>
<use href="#od" x="287.0" y="331.0"/>
<use href="#od" x="282.0" y="327.0"/>
<use href="#od" x="294.0" y="327.0"/>
<use href="#od" x="295.0" y="329.0"/>
<use href="#od" x="296.0" y="327.0"/>
<use href="#od" x="297.0" y="332.0"/>
<use href="#od" x="299.0" y="330.0"/>
<use href="#od" x="301.0" y="331.0"/>
<use href="#od" x="303.0" y="331.0"/>
<use href="#od" x="303.0" y="333.0"/>
<use href="#od" x="302.0" y="287.0"/>
<use href="#od" x="328.0" y="288.0"/>
<use href="#od" x="334.0" y="289.0"/>
<use href="#od" x="336.0" y="291.0"/>
<use href="#od" x="337.0" y="292.0"/>
<use href="#od" x="336.0" y="294.0"/>
<use href="#od" x="332.0" y="292.0"/>
<use href="#od" x="324.0" y="293.0"/>
<use href="#od" x="317.0" y="292.0"/>
<use href="#od" x="318.0" y="292.0"/>
<use href="#od" x="318.0" y="296.0"/>
<use href="#od" x="304.0" y="296.0"/>
<use href="#od" x="317.0" y="299.0"/>
<use href="#od" x="316.0" y="300.0"/>
<use href="#od" x="323.0" y="299.0"/>
<use href="#od" x="314.0" y="301.0"/>
<use href="#od" x="313.0" y="302.0"/>
<use href="#od" x="312.0" y="304.0"/>
<use href="#od" x="318.0" y="302.0"/>
<use href="#od" x="329.0" y="301.0"/>
<use href="#od" x="329.0" y="302.0"/>
<use href="#od" x="321.0" y="305.0"/>
<use href="#od" x="326.0" y="307.0"/>
<use href="#od" x="338.0" y="303.0"/>
<use href="#od" x="335.0" y="306.0"/>
<use href="#od" x="301.0" y="306.0"/>
<use href="#od" x="310.0" y="309.0"/>
<use href="#od" x="340.0" y="287.0"/>
<use href="#od" x="341.0" y="288.0"/>
<use href="#od" x="353.0" y="287.0"/>
<use href="#od" x="362.0" y="288.0"/>
<use href="#od" x="349.0" y="293.0"/>
<use href="#od" x="342.0" y="295.0"/>
<use href="#od" x="349.0" y="296.0"/>
<use href="#od" x="350.0" y="297.0"/>
<use href="#od" x="352.0" y="297.0"/>
<use href="#od" x="353.0" y="299.0"/>
<use href="#od" x="348.0" y="299.0"/>
<use href="#od" x="348.0" y="300.0"/>
<use href="#od" x="349.0" y="301.0"/>
<use href="#od" x="348.0" y="302.0"/>
<use href="#od" x="354.0" y="300.0"/>
<use href="#od" x="354.0" y="302.0"/>
<use href="#od" x="351.0" y="303.0"/>
<use href="#od" x="352.0" y="303.0"/>
<use href="#od" x="357.0" y="301.0"/>
<use href="#od" x="360.0" y="297.0"/>
<use href="#od" x="362.0" y="295.0"/>
<use href="#od" x="363.0" y="296.0"/>
<use href="#od" x="364.0" y="298.0"/>
<use href="#od" x="340.0" y="306.0"/>
<use href="#od" x="343.0" y="305.0"/>
<use href="#od" x="345.0" y="307.0"/>
<use href="#od" x="350.0" y="309.0"/>
<use href="#od" x="345.0" y="310.0"/>
<use href="#od" x="354.0" y="306.0"/>
<use href="#od" x="355.0" y="305.0"/>
<use href="#od" x="357.0" y="306.0"/>
<use href="#od" x="365.0" y="306.0"/>
<use href="#od" x="373.0" y="292.0"/>
<use href="#od" x="373.0" y="299.0"/>
<use href="#od" x="373.0" y="311.0"/>
<use href="#od" x="311.0" y="313.0"/>
<use href="#od" x="303.0" y="313.0"/>
<use href="#od" x="303.0" y="315.0"/>
<use href="#od" x="304.0" y="318.0"/>
<use href="#od" x="305.0" y="319.0"/>
<use href="#od" x="326.0" y="313.0"/>
<use href="#od" x="330.0" y="315.0"/>
<use href="#od" x="337.0" y="320.0"/>
<use href="#od" x="311.0" y="319.0"/>
<use href="#od" x="310.0" y="321.0"/>
<use href="#od" x="313.0" y="324.0"/>
<use href="#od" x="310.0" y="326.0"/>
<use href="#od" x="311.0" y="327.0"/>
<use href="#od" x="301.0" y="324.0"/>
<use href="#od" x="330.0" y="323.0"/>
<use href="#od" x="328.0" y="325.0"/>
<use href="#od" x="327.0" y="326.0"/>
<use href="#od" x="326.0" y="327.0"/>
<use href="#od" x="339.0" y="326.0"/>
<use href="#od" x="339.0" y="328.0"/>
<use href="#od" x="301.0" y="330.0"/>
<use href="#od" x="302.0" y="331.0"/>
<use href="#od" x="304.0" y="330.0"/>
<use href="#od" x="303.0" y="332.0"/>
<use href="#od" x="302.0" y="334.0"/>
<use href="#od" x="304.0" y="333.0"/>
<use href="#od" x="307.0" y="330.0"/>
<use href="#od" x="310.0" y="332.0"/>
<use href="#od" x="315.0" y="331.0"/>
<use href="#od" x="316.0" y="330.0"/>
<use href="#od" x="316.0" y="332.0"/>
<use href="#od" x="318.0" y="331.0"/>
<use href="#od" x="319.0" y="330.0"/>
<use href="#od" x="320.0" y="332.0"/>
<use href="#od" x="320.0" y="334.0"/>
<use href="#od" x="321.0" y="331.0"/>
<use href="#od" x="322.0" y="330.0"/>
<use href="#od" x="322.0" y="332.0"/>
<use href="#od" x="323.0" y="331.0"/>
<use href="#od" x="325.0" y="332.0"/>
<use href="#od" x="326.0" y="332.0"/>
<use href="#od" x="326.0" y="334.0"/>
<use href="#od" x="329.0" y="329.0"/>
<use href="#od" x="329.0" y="332.0"/>
<use href="#od" x="331.0" y="332.0"/>
<use href="#od" x="334.0" y="332.0"/>
<use href="#od" x="335.0" y="330.0"/>
<use href="#od" x="336.0" y="329.0"/>
<use href="#od" x="335.0" y="332.0"/>
<use href="#od" x="339.0" y="330.0"/>
<use href="#od" x="339.0" y="332.0"/>
<use href="#od" x="354.0" y="313.0"/>
<use href="#od" x="360.0" y="313.0"/>
<use href="#od" x="364.0" y="314.0"/>
<use href="#od" x="364.0" y="316.0"/>
<use href="#od" x="363.0" y="317.0"/>
<use href="#od" x="349.0" y="319.0"/>
<use href="#od" x="351.0" y="320.0"/>
<use href="#od" x="352.0" y="322.0"/>
<use href="#od" x="364.0" y="320.0"/>
<use href="#od" x="363.0" y="321.0"/>
<use href="#od" x="361.0" y="322.0"/>
<use href="#od" x="360.0" y="324.0"/>
<use href="#od" x="358.0" y="325.0"/>
<use href="#od" x="346.0" y="324.0"/>
<use href="#od" x="340.0" y="325.0"/>
<use href="#od" x="339.0" y="327.0"/>
<use href="#od" x="340.0" y="331.0"/>
<use href="#od" x="340.0" y="332.0"/>
<use href="#od" x="343.0" y="329.0"/>
<use href="#od" x="343.0" y="331.0"/>
<use href="#od" x="343.0" y="333.0"/>
<use href="#od" x="345.0" y="332.0"/>
<use href="#od" x="346.0" y="331.0"/>
<use href="#od" x="348.0" y="329.0"/>
<use href="#od" x="350.0" y="329.0"/>
<use href="#od" x="350.0" y="332.0"/>
<use href="#od" x="351.0" y="330.0"/>
<use href="#od" x="352.0" y="330.0"/>
<use href="#od" x="356.0" y="330.0"/>
<use href="#od" x="373.0" y="311.0"/>
<use href="#od" x="374.0" y="318.0"/>
<use href="#od" x="370.0" y="288.0"/>
<use href="#od" x="370.0" y="292.0"/>
<use href="#od" x="370.0" y="295.0"/>
<use href="#od" x="370.0" y="298.0"/>
<use href="#od" x="370.0" y="301.0"/>
<use href="#od" x="370.0" y="303.0"/>
<use href="#od" x="370.0" y="305.0"/>
<use href="#od" x="370.0" y="307.0"/>
<use href="#od" x="370.0" y="309.0"/>
<use href="#od" x="370.0" y="311.0"/>
<use href="#od" x="370.0" y="314.0"/>
<use href="#od" x="370.0" y="316.0"/>
<use href="#od" x="370.0" y="318.0"/>
<use href="#od" x="370.0" y="320.0"/>
<use href="#od" x="370.0" y="321.0"/>
<use href="#od" x="370.0" y="322.0"/>
<use href="#od" x="370.0" y="323.0"/>
<use href="#od" x="370.0" y="324.0"/>
<use href="#od" x="370.0" y="325.0"/>
<use href="#od" x="370.0" y="326.0"/>
<use href="#od" x="370.0" y="327.0"/>
<use href="#od" x="370.0" y="329.0"/>
<use href="#od" x="370.0" y="330.0"/>
<use href="#od" x="370.0" y="331.0"/>
<use href="#od" x="370.0" y="332.0"/>
<use href="#od" x="370.0" y="333.0"/>
<use href="#od" x="370.0" y="334.0"/>
<use href="#od" x="296.0" y="245.0"/>
<use href="#od" x="262.0" y="250.0"/>
<use href="#od" x="281.0" y="251.0"/>
<use href="#od" x="278.0" y="267.0"/>
<use href="#od" x="298.0" y="269.0"/>
<use href="#od" x="298.0" y="271.0"/>
<use href="#od" x="263.0" y="275.0"/>
<use href="#od" x="277.0" y="274.0"/>
<use href="#od" x="289.0" y="278.0"/>
<use href="#od" x="279.0" y="280.0"/>
<use href="#od" x="268.0" y="282.0"/>
<use href="#od" x="273.0" y="285.0"/>
<use href="#od" x="271.0" y="288.0"/>
<use href="#od" x="302.0" y="280.0"/>
<use href="#od" x="304.0" y="279.0"/>
<use href="#od" x="301.0" y="287.0"/>
<use href="#od" x="334.0" y="244.0"/>
<use href="#od" x="316.0" y="256.0"/>
<use href="#od" x="305.0" y="266.0"/>
<use href="#od" x="308.0" y="268.0"/>
<use href="#od" x="321.0" y="267.0"/>
<use href="#od" x="324.0" y="268.0"/>
<use href="#od" x="328.0" y="271.0"/>
<use href="#od" x="338.0" y="266.0"/>
<use href="#od" x="337.0" y="274.0"/>
<use href="#od" x="310.0" y="275.0"/>
<use href="#od" x="305.0" y="278.0"/>
<use href="#od" x="302.0" y="280.0"/>
<use href="#od" x="305.0" y="281.0"/>
<use href="#od" x="331.0" y="278.0"/>
<use href="#od" x="337.0" y="278.0"/>
<use href="#od" x="339.0" y="281.0"/>
<use href="#od" x="334.0" y="284.0"/>
<use href="#od" x="338.0" y="238.0"/>
<use href="#od" x="374.0" y="248.0"/>
<use href="#od" x="352.0" y="253.0"/>
<use href="#od" x="358.0" y="255.0"/>
<use href="#od" x="375.0" y="254.0"/>
<use href="#od" x="349.0" y="260.0"/>
<use href="#od" x="344.0" y="263.0"/>
<use href="#od" x="363.0" y="264.0"/>
<use href="#od" x="338.0" y="267.0"/>
<use href="#od" x="349.0" y="267.0"/>
<use href="#od" x="349.0" y="270.0"/>
<use href="#od" x="354.0" y="269.0"/>
<use href="#od" x="374.0" y="264.0"/>
<use href="#od" x="344.0" y="273.0"/>
<use href="#od" x="337.0" y="275.0"/>
<use href="#od" x="355.0" y="274.0"/>
<use href="#od" x="357.0" y="273.0"/>
<use href="#od" x="360.0" y="271.0"/>
<use href="#od" x="361.0" y="273.0"/>
<use href="#od" x="338.0" y="278.0"/>
<use href="#od" x="349.0" y="277.0"/>
<use href="#od" x="357.0" y="278.0"/>
<use href="#od" x="339.0" y="281.0"/>
<use href="#od" x="360.0" y="280.0"/>
<use href="#od" x="299.0" y="199.0"/>
<use href="#od" x="281.0" y="235.0"/>
<use href="#od" x="297.0" y="233.0"/>
<use href="#od" x="316.0" y="206.0"/>
<use href="#od" x="316.0" y="212.0"/>
<use href="#od" x="308.0" y="222.0"/>
<use href="#od" x="307.0" y="236.0"/>
<use href="#od" x="344.0" y="230.0"/>
<use href="#od" x="340.0" y="235.0"/>
<use href="#od" x="346.0" y="198.0"/>
<use href="#od" x="356.0" y="224.0"/>
<use href="#od" x="250.0" y="157.0"/>
<use href="#od" x="281.0" y="175.0"/>
<use href="#od" x="276.0" y="187.0"/>
<use href="#od" x="289.0" y="187.0"/>
<use href="#od" x="311.0" y="141.0"/>
<use href="#od" x="319.0" y="141.0"/>
<use href="#od" x="314.0" y="147.0"/>
<use href="#od" x="314.0" y="150.0"/>
<use href="#od" x="303.0" y="152.0"/>
<use href="#od" x="312.0" y="158.0"/>
<use href="#od" x="314.0" y="156.0"/>
<use href="#od" x="318.0" y="155.0"/>
<use href="#od" x="308.0" y="168.0"/>
<use href="#od" x="326.0" y="169.0"/>
<use href="#od" x="326.0" y="171.0"/>
<use href="#od" x="322.0" y="172.0"/>
<use href="#od" x="309.0" y="176.0"/>
<use href="#od" x="298.0" y="179.0"/>
<use href="#od" x="326.0" y="183.0"/>
<use href="#od" x="322.0" y="185.0"/>
<use href="#od" x="343.0" y="150.0"/>
<use href="#od" x="354.0" y="156.0"/>
<use href="#od" x="359.0" y="160.0"/>
<use href="#od" x="342.0" y="166.0"/>
<use href="#od" x="353.0" y="184.0"/>
<use href="#od" x="355.0" y="188.0"/>
<use href="#od" x="343.0" y="186.0"/>
<use href="#od" x="262.0" y="103.0"/>
<use href="#od" x="272.0" y="101.0"/>
<use href="#od" x="265.0" y="113.0"/>
<use href="#od" x="289.0" y="107.0"/>
<use href="#od" x="289.0" y="111.0"/>
<use href="#od" x="296.0" y="116.0"/>
<use href="#od" x="285.0" y="121.0"/>
<use href="#od" x="320.0" y="90.0"/>
<use href="#od" x="321.0" y="94.0"/>
<use href="#od" x="324.0" y="94.0"/>
<use href="#od" x="327.0" y="102.0"/>
<use href="#od" x="329.0" y="104.0"/>
<use href="#od" x="329.0" y="105.0"/>
<use href="#od" x="331.0" y="104.0"/>
<use href="#od" x="334.0" y="105.0"/>
<use href="#od" x="334.0" y="106.0"/>
<use href="#od" x="338.0" y="107.0"/>
<use href="#od" x="341.0" y="102.0"/>
<use href="#od" x="341.0" y="103.0"/>
<use href="#od" x="321.0" y="109.0"/>
<use href="#od" x="329.0" y="109.0"/>
<use href="#od" x="334.0" y="110.0"/>
<use href="#od" x="338.0" y="112.0"/>
<use href="#od" x="324.0" y="113.0"/>
<use href="#od" x="325.0" y="114.0"/>
<use href="#od" x="324.0" y="115.0"/>
<use href="#od" x="333.0" y="116.0"/>
<use href="#od" x="337.0" y="117.0"/>
<use href="#od" x="311.0" y="119.0"/>
<use href="#od" x="301.0" y="122.0"/>
<use href="#od" x="303.0" y="121.0"/>
<use href="#od" x="320.0" y="122.0"/>
<use href="#od" x="330.0" y="123.0"/>
<use href="#od" x="315.0" y="127.0"/>
<use href="#od" x="314.0" y="132.0"/>
<use href="#od" x="318.0" y="133.0"/>
<use href="#od" x="325.0" y="135.0"/>
<use href="#od" x="310.0" y="139.0"/>
<use href="#od" x="353.0" y="105.0"/>
<use href="#od" x="358.0" y="103.0"/>
<use href="#od" x="347.0" y="127.0"/>
<use href="#od" x="373.0" y="247.0"/>
<use href="#od" x="374.0" y="254.0"/>
<use href="#od" x="375.0" y="264.0"/>
<use href="#od" x="395.0" y="264.0"/>
<use href="#od" x="449.0" y="251.0"/>
<use href="#od" x="459.0" y="252.0"/>
<use href="#od" x="397.0" y="270.0"/>
<use href="#od" x="373.0" y="275.0"/>
<use href="#od" x="374.0" y="276.0"/>
<use href="#od" x="382.0" y="274.0"/>
<use href="#od" x="387.0" y="279.0"/>
<use href="#od" x="390.0" y="278.0"/>
<use href="#od" x="392.0" y="279.0"/>
<use href="#od" x="394.0" y="282.0"/>
<use href="#od" x="394.0" y="283.0"/>
<use href="#od" x="378.0" y="280.0"/>
<use href="#od" x="378.0" y="281.0"/>
<use href="#od" x="376.0" y="283.0"/>
<use href="#od" x="381.0" y="283.0"/>
<use href="#od" x="384.0" y="287.0"/>
<use href="#od" x="385.0" y="287.0"/>
<use href="#od" x="385.0" y="290.0"/>
<use href="#od" x="381.0" y="291.0"/>
<use href="#od" x="373.0" y="292.0"/>
<use href="#od" x="374.0" y="294.0"/>
<use href="#od" x="378.0" y="294.0"/>
<use href="#od" x="380.0" y="294.0"/>
<use href="#od" x="388.0" y="293.0"/>
<use href="#od" x="397.0" y="285.0"/>
<use href="#od" x="398.0" y="287.0"/>
<use href="#od" x="400.0" y="286.0"/>
<use href="#od" x="401.0" y="286.0"/>
<use href="#od" x="403.0" y="285.0"/>
<use href="#od" x="407.0" y="280.0"/>
<use href="#od" x="401.0" y="291.0"/>
<use href="#od" x="396.0" y="290.0"/>
<use href="#od" x="396.0" y="293.0"/>
<use href="#od" x="411.0" y="289.0"/>
<use href="#od" x="410.0" y="291.0"/>
<use href="#od" x="425.0" y="287.0"/>
<use href="#od" x="420.0" y="287.0"/>
<use href="#od" x="421.0" y="291.0"/>
<use href="#od" x="423.0" y="290.0"/>
<use href="#od" x="433.0" y="289.0"/>
<use href="#od" x="434.0" y="290.0"/>
<use href="#od" x="416.0" y="293.0"/>
<use href="#od" x="423.0" y="294.0"/>
<use href="#od" x="442.0" y="293.0"/>
<use href="#od" x="444.0" y="293.0"/>
<use href="#od" x="460.0" y="271.0"/>
<use href="#od" x="462.0" y="272.0"/>
<use href="#od" x="449.0" y="273.0"/>
<use href="#od" x="452.0" y="276.0"/>
<use href="#od" x="449.0" y="283.0"/>
<use href="#od" x="448.0" y="288.0"/>
<use href="#od" x="456.0" y="291.0"/>
<use href="#od" x="375.0" y="294.0"/>
<use href="#od" x="376.0" y="296.0"/>
<use href="#od" x="380.0" y="296.0"/>
<use href="#od" x="381.0" y="297.0"/>
<use href="#od" x="383.0" y="296.0"/>
<use href="#od" x="373.0" y="299.0"/>
<use href="#od" x="377.0" y="302.0"/>
<use href="#od" x="377.0" y="300.0"/>
<use href="#od" x="388.0" y="295.0"/>
<use href="#od" x="389.0" y="301.0"/>
<use href="#od" x="390.0" y="302.0"/>
<use href="#od" x="392.0" y="301.0"/>
<use href="#od" x="395.0" y="300.0"/>
<use href="#od" x="396.0" y="299.0"/>
<use href="#od" x="397.0" y="293.0"/>
<use href="#od" x="398.0" y="295.0"/>
<use href="#od" x="401.0" y="299.0"/>
<use href="#od" x="403.0" y="298.0"/>
<use href="#od" x="404.0" y="300.0"/>
<use href="#od" x="406.0" y="302.0"/>
<use href="#od" x="407.0" y="301.0"/>
<use href="#od" x="398.0" y="304.0"/>
<use href="#od" x="399.0" y="304.0"/>
<use href="#od" x="401.0" y="304.0"/>
<use href="#od" x="402.0" y="305.0"/>
<use href="#od" x="403.0" y="305.0"/>
<use href="#od" x="389.0" y="306.0"/>
<use href="#od" x="408.0" y="305.0"/>
<use href="#od" x="409.0" y="309.0"/>
<use href="#od" x="374.0" y="311.0"/>
<use href="#od" x="378.0" y="312.0"/>
<use href="#od" x="382.0" y="311.0"/>
<use href="#od" x="383.0" y="313.0"/>
<use href="#od" x="385.0" y="312.0"/>
<use href="#od" x="386.0" y="312.0"/>
<use href="#od" x="388.0" y="314.0"/>
<use href="#od" x="389.0" y="314.0"/>
<use href="#od" x="381.0" y="315.0"/>
<use href="#od" x="391.0" y="314.0"/>
<use href="#od" x="392.0" y="313.0"/>
<use href="#od" x="394.0" y="312.0"/>
<use href="#od" x="395.0" y="314.0"/>
<use href="#od" x="396.0" y="314.0"/>
<use href="#od" x="398.0" y="314.0"/>
<use href="#od" x="395.0" y="311.0"/>
<use href="#od" x="402.0" y="311.0"/>
<use href="#od" x="389.0" y="316.0"/>
<use href="#od" x="389.0" y="317.0"/>
<use href="#od" x="374.0" y="318.0"/>
<use href="#od" x="387.0" y="319.0"/>
<use href="#od" x="386.0" y="320.0"/>
<use href="#od" x="395.0" y="318.0"/>
<use href="#od" x="400.0" y="319.0"/>
<use href="#od" x="401.0" y="320.0"/>
<use href="#od" x="406.0" y="295.0"/>
<use href="#od" x="408.0" y="297.0"/>
<use href="#od" x="410.0" y="299.0"/>
<use href="#od" x="413.0" y="295.0"/>
<use href="#od" x="416.0" y="295.0"/>
<use href="#od" x="413.0" y="299.0"/>
<use href="#od" x="414.0" y="301.0"/>
<use href="#od" x="406.0" y="302.0"/>
<use href="#od" x="409.0" y="300.0"/>
<use href="#od" x="418.0" y="300.0"/>
<use href="#od" x="419.0" y="302.0"/>
<use href="#od" x="419.0" y="301.0"/>
<use href="#od" x="422.0" y="294.0"/>
<use href="#od" x="423.0" y="295.0"/>
<use href="#od" x="425.0" y="299.0"/>
<use href="#od" x="425.0" y="299.0"/>
<use href="#od" x="429.0" y="299.0"/>
<use href="#od" x="431.0" y="298.0"/>
<use href="#od" x="431.0" y="296.0"/>
<use href="#od" x="432.0" y="295.0"/>
<use href="#od" x="434.0" y="297.0"/>
<use href="#od" x="435.0" y="299.0"/>
<use href="#od" x="436.0" y="300.0"/>
<use href="#od" x="438.0" y="296.0"/>
<use href="#od" x="440.0" y="298.0"/>
<use href="#od" x="440.0" y="296.0"/>
<use href="#od" x="442.0" y="296.0"/>
<use href="#od" x="443.0" y="294.0"/>
<use href="#od" x="437.0" y="301.0"/>
<use href="#od" x="438.0" y="302.0"/>
<use href="#od" x="439.0" y="305.0"/>
<use href="#od" x="440.0" y="305.0"/>
<use href="#od" x="443.0" y="299.0"/>
<use href="#od" x="444.0" y="299.0"/>
<use href="#od" x="408.0" y="305.0"/>
<use href="#od" x="409.0" y="307.0"/>
<use href="#od" x="413.0" y="306.0"/>
<use href="#od" x="410.0" y="309.0"/>
<use href="#od" x="420.0" y="305.0"/>
<use href="#od" x="421.0" y="305.0"/>
<use href="#od" x="422.0" y="304.0"/>
<use href="#od" x="423.0" y="304.0"/>
<use href="#od" x="420.0" y="306.0"/>
<use href="#od" x="406.0" y="308.0"/>
<use href="#od" x="422.0" y="310.0"/>
<use href="#od" x="423.0" y="311.0"/>
<use href="#od" x="422.0" y="313.0"/>
<use href="#od" x="425.0" y="311.0"/>
<use href="#od" x="429.0" y="310.0"/>
<use href="#od" x="428.0" y="312.0"/>
<use href="#od" x="430.0" y="311.0"/>
<use href="#od" x="418.0" y="312.0"/>
<use href="#od" x="412.0" y="315.0"/>
<use href="#od" x="425.0" y="316.0"/>
<use href="#od" x="425.0" y="319.0"/>
<use href="#od" x="431.0" y="321.0"/>
<use href="#od" x="456.0" y="291.0"/>
<use href="#od" x="441.0" y="294.0"/>
<use href="#od" x="443.0" y="295.0"/>
<use href="#od" x="444.0" y="294.0"/>
<use href="#od" x="441.0" y="297.0"/>
<use href="#od" x="441.0" y="298.0"/>
<use href="#od" x="441.0" y="300.0"/>
<use href="#od" x="444.0" y="298.0"/>
<use href="#od" x="444.0" y="300.0"/>
<use href="#od" x="447.0" y="297.0"/>
<use href="#od" x="449.0" y="298.0"/>
<use href="#od" x="452.0" y="295.0"/>
<use href="#od" x="453.0" y="298.0"/>
<use href="#od" x="453.0" y="301.0"/>
<use href="#od" x="455.0" y="297.0"/>
<use href="#od" x="459.0" y="297.0"/>
<use href="#od" x="460.0" y="300.0"/>
<use href="#od" x="462.0" y="297.0"/>
<use href="#od" x="464.0" y="298.0"/>
<use href="#od" x="464.0" y="300.0"/>
<use href="#od" x="465.0" y="301.0"/>
<use href="#od" x="467.0" y="300.0"/>
<use href="#od" x="468.0" y="299.0"/>
<use href="#od" x="470.0" y="298.0"/>
<use href="#od" x="470.0" y="297.0"/>
<use href="#od" x="469.0" y="297.0"/>
<use href="#od" x="476.0" y="300.0"/>
<use href="#od" x="441.0" y="306.0"/>
<use href="#od" x="440.0" y="303.0"/>
<use href="#od" x="447.0" y="307.0"/>
<use href="#od" x="456.0" y="304.0"/>
<use href="#od" x="457.0" y="306.0"/>
<use href="#od" x="456.0" y="307.0"/>
<use href="#od" x="456.0" y="309.0"/>
<use href="#od" x="462.0" y="305.0"/>
<use href="#od" x="461.0" y="306.0"/>
<use href="#od" x="460.0" y="308.0"/>
<use href="#od" x="462.0" y="308.0"/>
<use href="#od" x="471.0" y="305.0"/>
<use href="#od" x="475.0" y="307.0"/>
<use href="#od" x="477.0" y="306.0"/>
<use href="#od" x="479.0" y="306.0"/>
<use href="#od" x="480.0" y="308.0"/>
<use href="#od" x="454.0" y="310.0"/>
<use href="#od" x="472.0" y="312.0"/>
<use href="#od" x="474.0" y="314.0"/>
<use href="#od" x="459.0" y="314.0"/>
<use href="#od" x="465.0" y="319.0"/>
<use href="#od" x="400.0" y="321.0"/>
<use href="#od" x="380.0" y="322.0"/>
<use href="#od" x="382.0" y="324.0"/>
<use href="#od" x="382.0" y="325.0"/>
<use href="#od" x="381.0" y="326.0"/>
<use href="#od" x="389.0" y="324.0"/>
<use href="#od" x="392.0" y="324.0"/>
<use href="#od" x="396.0" y="324.0"/>
<use href="#od" x="396.0" y="326.0"/>
<use href="#od" x="394.0" y="327.0"/>
<use href="#od" x="394.0" y="328.0"/>
<use href="#od" x="395.0" y="330.0"/>
<use href="#od" x="396.0" y="330.0"/>
<use href="#od" x="398.0" y="329.0"/>
<use href="#od" x="398.0" y="330.0"/>
<use href="#od" x="386.0" y="331.0"/>
<use href="#od" x="388.0" y="331.0"/>
<use href="#od" x="390.0" y="330.0"/>
<use href="#od" x="396.0" y="333.0"/>
<use href="#od" x="398.0" y="333.0"/>
<use href="#od" x="402.0" y="330.0"/>
<use href="#od" x="403.0" y="332.0"/>
<use href="#od" x="403.0" y="333.0"/>
<use href="#od" x="407.0" y="324.0"/>
<use href="#od" x="407.0" y="327.0"/>
<use href="#od" x="409.0" y="328.0"/>
<use href="#od" x="411.0" y="327.0"/>
<use href="#od" x="412.0" y="328.0"/>
<use href="#od" x="414.0" y="327.0"/>
<use href="#od" x="413.0" y="330.0"/>
<use href="#od" x="412.0" y="331.0"/>
<use href="#od" x="410.0" y="330.0"/>
<use href="#od" x="409.0" y="332.0"/>
<use href="#od" x="407.0" y="333.0"/>
<use href="#od" x="410.0" y="334.0"/>
<use href="#od" x="412.0" y="333.0"/>
<use href="#od" x="414.0" y="332.0"/>
<use href="#od" x="416.0" y="330.0"/>
<use href="#od" x="417.0" y="332.0"/>
<use href="#od" x="418.0" y="333.0"/>
<use href="#od" x="419.0" y="331.0"/>
<use href="#od" x="419.0" y="326.0"/>
<use href="#od" x="445.0" y="323.0"/>
<use href="#od" x="424.0" y="325.0"/>
<use href="#od" x="425.0" y="326.0"/>
<use href="#od" x="427.0" y="327.0"/>
<use href="#od" x="433.0" y="325.0"/>
<use href="#od" x="436.0" y="328.0"/>
<use href="#od" x="416.0" y="330.0"/>
<use href="#od" x="417.0" y="332.0"/>
<use href="#od" x="417.0" y="333.0"/>
<use href="#od" x="419.0" y="332.0"/>
<use href="#od" x="422.0" y="330.0"/>
<use href="#od" x="422.0" y="332.0"/>
<use href="#od" x="425.0" y="332.0"/>
<use href="#od" x="428.0" y="333.0"/>
<use href="#od" x="428.0" y="335.0"/>
<use href="#od" x="430.0" y="331.0"/>
<use href="#od" x="433.0" y="331.0"/>
<use href="#od" x="437.0" y="333.0"/>
<use href="#od" x="439.0" y="331.0"/>
<use href="#od" x="442.0" y="333.0"/>
<use href="#od" x="446.0" y="331.0"/>
<use href="#od" x="449.0" y="333.0"/>
<use href="#od" x="452.0" y="333.0"/>
<use href="#od" x="454.0" y="330.0"/>
<use href="#od" x="456.0" y="330.0"/>
<use href="#od" x="457.0" y="329.0"/>
<use href="#od" x="457.0" y="332.0"/>
<use href="#od" x="458.0" y="331.0"/>
<use href="#od" x="458.0" y="332.0"/>
<use href="#od" x="456.0" y="332.0"/>
<use href="#od" x="463.0" y="330.0"/>
<use href="#od" x="465.0" y="333.0"/>
<use href="#od" x="470.0" y="333.0"/>
<use href="#od" x="473.0" y="333.0"/>
<use href="#od" x="473.0" y="330.0"/>
<use href="#od" x="370.0" y="297.0"/>
<use href="#od" x="370.0" y="299.0"/>
<use href="#od" x="370.0" y="300.0"/>
<use href="#od" x="370.0" y="302.0"/>
<use href="#od" x="370.0" y="304.0"/>
<use href="#od" x="370.0" y="306.0"/>
<use href="#od" x="370.0" y="308.0"/>
<use href="#od" x="370.0" y="310.0"/>
<use href="#od" x="370.0" y="312.0"/>
<use href="#od" x="370.0" y="313.0"/>
<use href="#od" x="370.0" y="315.0"/>
<use href="#od" x="370.0" y="317.0"/>
<use href="#od" x="370.0" y="319.0"/>
<use href="#od" x="370.0" y="328.0"/>
</g>
<line x1="370.5" y1="30" x2="370.5" y2="350" stroke="#5f6a1e" stroke-width="1"/>
<text x="362" y="34" text-anchor="end" class="t">53</text>
<text x="362" y="63" text-anchor="end" class="t">48</text>
<text x="362" y="92" text-anchor="end" class="t">43</text>
<text x="362" y="121" text-anchor="end" class="t">38</text>
<text x="362" y="150" text-anchor="end" class="t">33</text>
<text x="362" y="179" text-anchor="end" class="t">28</text>
<text x="362" y="209" text-anchor="end" class="t">23</text>
<text x="362" y="238" text-anchor="end" class="t">18</text>
<text x="362" y="267" text-anchor="end" class="t">13</text>
<text x="362" y="296" text-anchor="end" class="t">8</text>
<text x="362" y="325" text-anchor="end" class="t">3</text>
<text x="362" y="354" text-anchor="end" class="t">3</text>
<rect x="346" y="30" width="18" height="1" fill="#d9d9d9"/><rect x="346" y="31" width="18" height="1" fill="#ffffff" fill-opacity="0.8"/>
<rect x="352" y="350" width="12" height="1" fill="#d9d9d9"/><rect x="352" y="351" width="12" height="1" fill="#ebf0cc" fill-opacity="0.7"/>
<text transform="translate(342.5 190) rotate(-90)" text-anchor="middle" class="t" style="letter-spacing:0.33px">Vitesse [Km/h]</text>
</svg>
</body></html>
